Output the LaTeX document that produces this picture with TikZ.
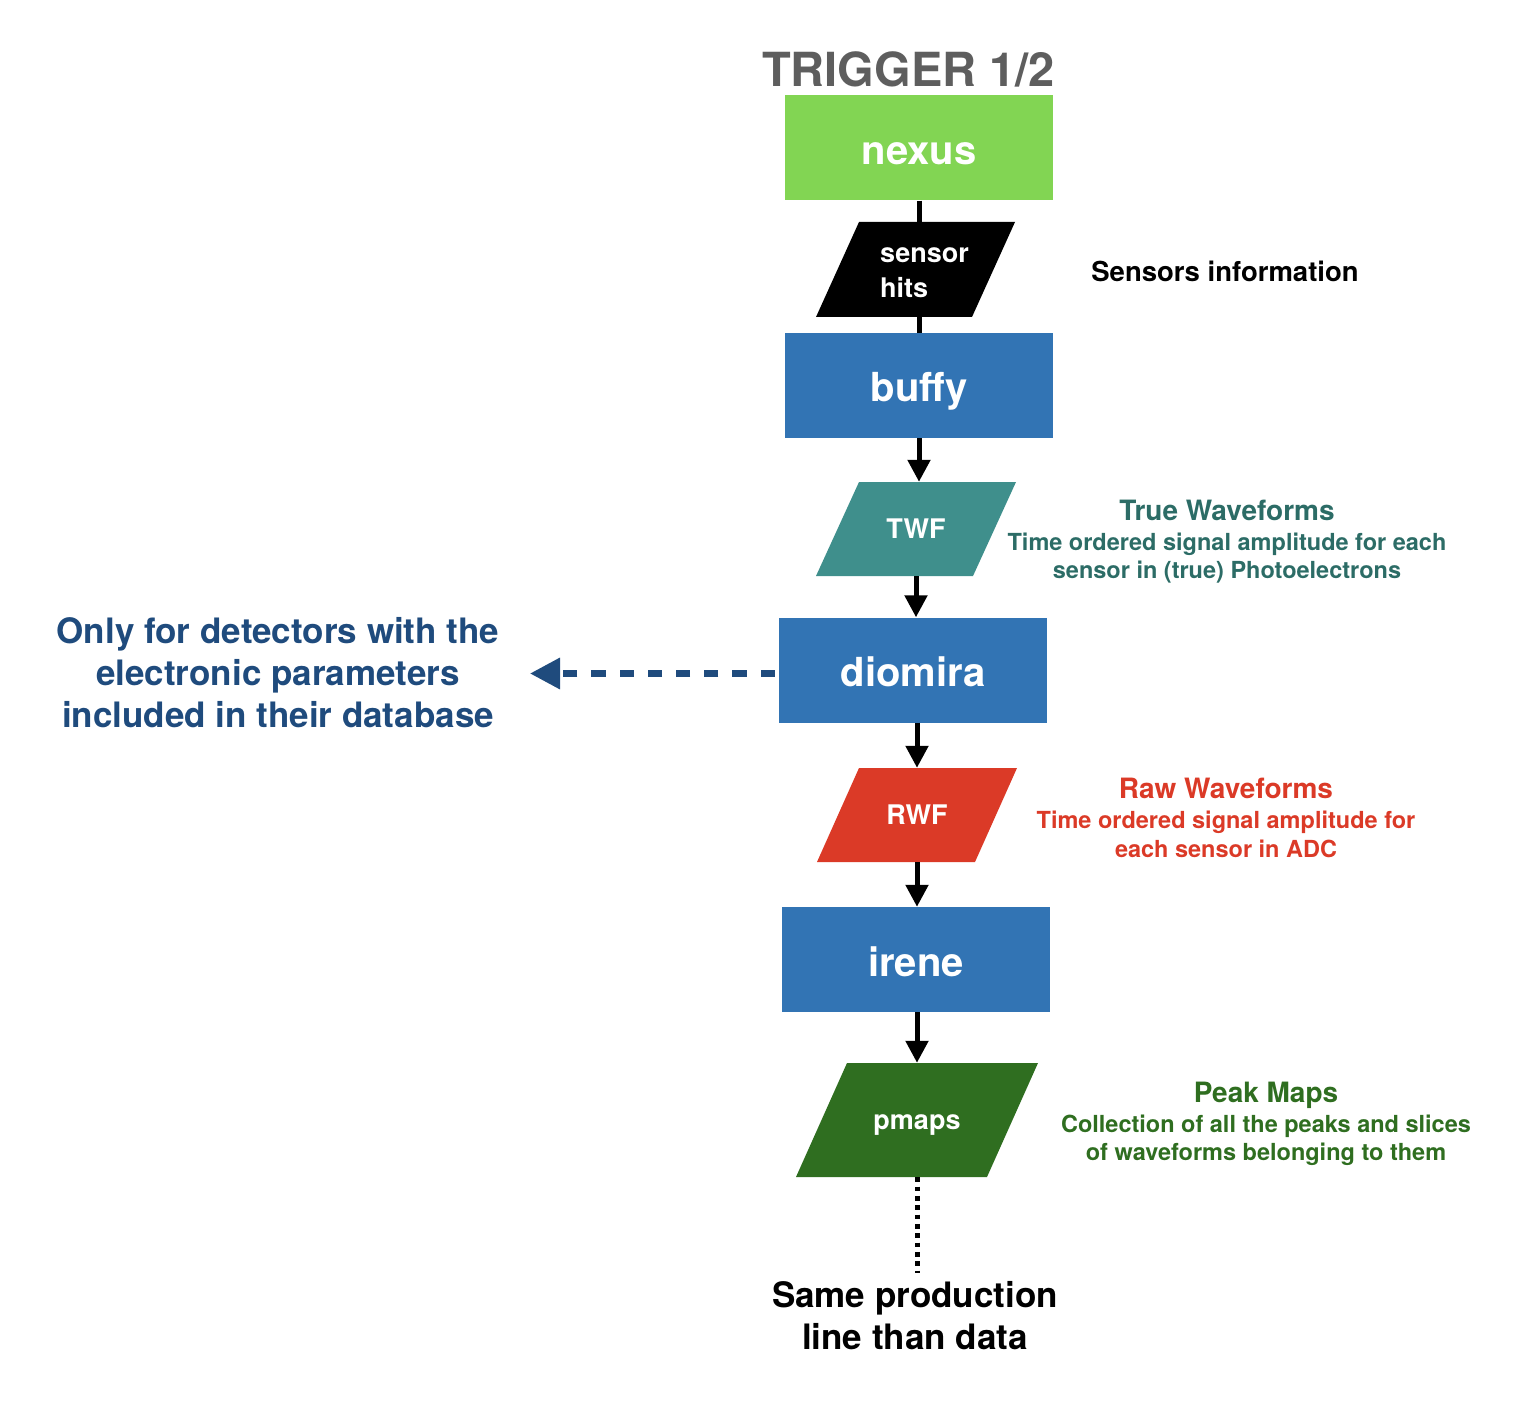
\documentclass[tikz,border=0pt]{standalone}
\usepackage{fontspec}
\setmainfont{TeX Gyre Heros}
\usetikzlibrary{arrows.meta,calc}
\definecolor{cgreen}{HTML}{82D553}
\definecolor{cblue}{HTML}{3274B4}
\definecolor{cteal}{HTML}{3F8F8C}
\definecolor{cred}{HTML}{DB3A27}
\definecolor{cdgreen}{HTML}{2F6E20}
\definecolor{cnavy}{HTML}{1F4B7D}
\definecolor{cgray}{HTML}{5E5E5E}
\definecolor{tteal}{HTML}{2C6C66}
\begin{document}
\begin{tikzpicture}[x=1pt,y=-1pt,
  box/.style={rectangle, minimum width=268pt, minimum height=105pt, inner sep=0pt,
    text=white, font=\bfseries\fontsize{40}{48}\selectfont, text height=33pt, text depth=0pt},
  para/.style 2 args={rectangle, inner sep=0pt, fill=white, text=white,
    path picture={\fill[#1] (path picture bounding box.south west)
      -- ([xshift=-#2pt]path picture bounding box.south east)
      -- (path picture bounding box.north east)
      -- ([xshift=#2pt]path picture bounding box.north west) -- cycle;}},
  plabel/.style={font=\bfseries\fontsize{27}{32}\selectfont, text height=19pt, text depth=0pt},
  conn/.style={line width=5pt},
  arr/.style={conn, -{Triangle[length=22pt,width=22pt]}},
  ttl/.style={anchor=base, inner sep=0pt, font=\bfseries\fontsize{28}{32}\selectfont},
  dsc/.style={anchor=base, inner sep=0pt, font=\bfseries\fontsize{23.5}{28}\selectfont},
  big/.style={anchor=base, inner sep=0pt, font=\bfseries\fontsize{35}{42}\selectfont}
]
\useasboundingbox (0,0) rectangle (1540,1420);

\node[anchor=base, inner sep=0pt, text=cgray, font=\bfseries\fontsize{47}{52}\selectfont] (title) at (908.5,87) {TRIGGER 1/2};

\node[box, fill=cgreen] (nexus) at (919,148) {nexus};
\node[para={black}{43}, minimum width=199pt, minimum height=95pt, align=left,
      font=\bfseries\fontsize{27}{35}\selectfont] (sh) at (915.5,269.5)
      {\hspace*{18pt}\rule{0pt}{22pt}sensor\\\hspace*{18pt}hits};
\node[box, fill=cblue] (buffy) at (919,385.5) {buffy};
\node[para={cteal}{43}, minimum width=200pt, minimum height=94pt, plabel] (twf) at (916,529) {TWF};
\node[box, fill=cblue] (diomira) at (913,670) {diomira};
\node[para={cred}{42}, minimum width=200pt, minimum height=94pt, plabel] (rwf) at (917,815) {RWF};
\node[box, fill=cblue] (irene) at (916,959.5) {irene};
\node[para={cdgreen}{51}, minimum width=242pt, minimum height=114pt, plabel] (pmaps) at (917,1120) {pmaps};

% side texts
\node[anchor=base, inner sep=0pt, font=\bfseries\fontsize{27.5}{32}\selectfont] (sinfo) at (1225,282) {Sensors information};

\node[ttl, text=tteal] (twft) at (1227,520) {True Waveforms};
\node[dsc, text=tteal] (twfd1) at (1227,550) {Time ordered signal amplitude for each};
\node[dsc, text=tteal] (twfd2) at (1227,578) {sensor in (true) Photoelectrons};

\node[ttl, text=cred] (rwft) at (1226,798) {Raw Waveforms};
\node[dsc, text=cred] (rwfd1) at (1226,828) {Time ordered signal amplitude for};
\node[dsc, text=cred] (rwfd2) at (1226,857) {each sensor in ADC};

\node[ttl, text=cdgreen] (pmt) at (1266,1102) {Peak Maps};
\node[dsc, text=cdgreen] (pmd1) at (1266,1132) {Collection of all the peaks and slices};
\node[dsc, text=cdgreen] (pmd2) at (1266,1160) {of waveforms belonging to them};

\node[big, text=cnavy] (left1) at (278,643) {Only for detectors with the};
\node[big, text=cnavy] (left2) at (278,685) {electronic parameters};
\node[big, text=cnavy] (left3) at (278,727) {included in their database};

\node[big] (same1) at (915,1307) {Same production};
\node[big] (same2) at (915,1349) {line than data};

% connectors
\draw[conn] (nexus.south) -- (nexus.south |- sh.north);
\draw[conn] (buffy.north |- sh.south) -- (buffy.north);
\draw[arr] (buffy.south) -- (buffy.south |- twf.north);
\draw[arr] (twf.south) -- (twf.south |- diomira.north);
\draw[arr] (rwf.north |- diomira.south) -- (rwf.north);
\draw[arr] (rwf.south) -- (rwf.south |- irene.north);
\draw[arr] (pmaps.north |- irene.south) -- (pmaps.north);

\coordinate (dtip) at (530,673.5);
\draw[line width=6.5pt, cnavy, dash pattern=on 14.3pt off 13.9pt,
      -{Triangle[length=30pt,width=30pt]}] ([yshift=-3.5pt,xshift=-4pt]diomira.west) -- (dtip);

\coordinate (dotend) at (917,1273);
\draw[line width=5pt, dash pattern=on 4.67pt off 4.67pt] (pmaps.south) -- (dotend);
\end{tikzpicture}
\end{document}
